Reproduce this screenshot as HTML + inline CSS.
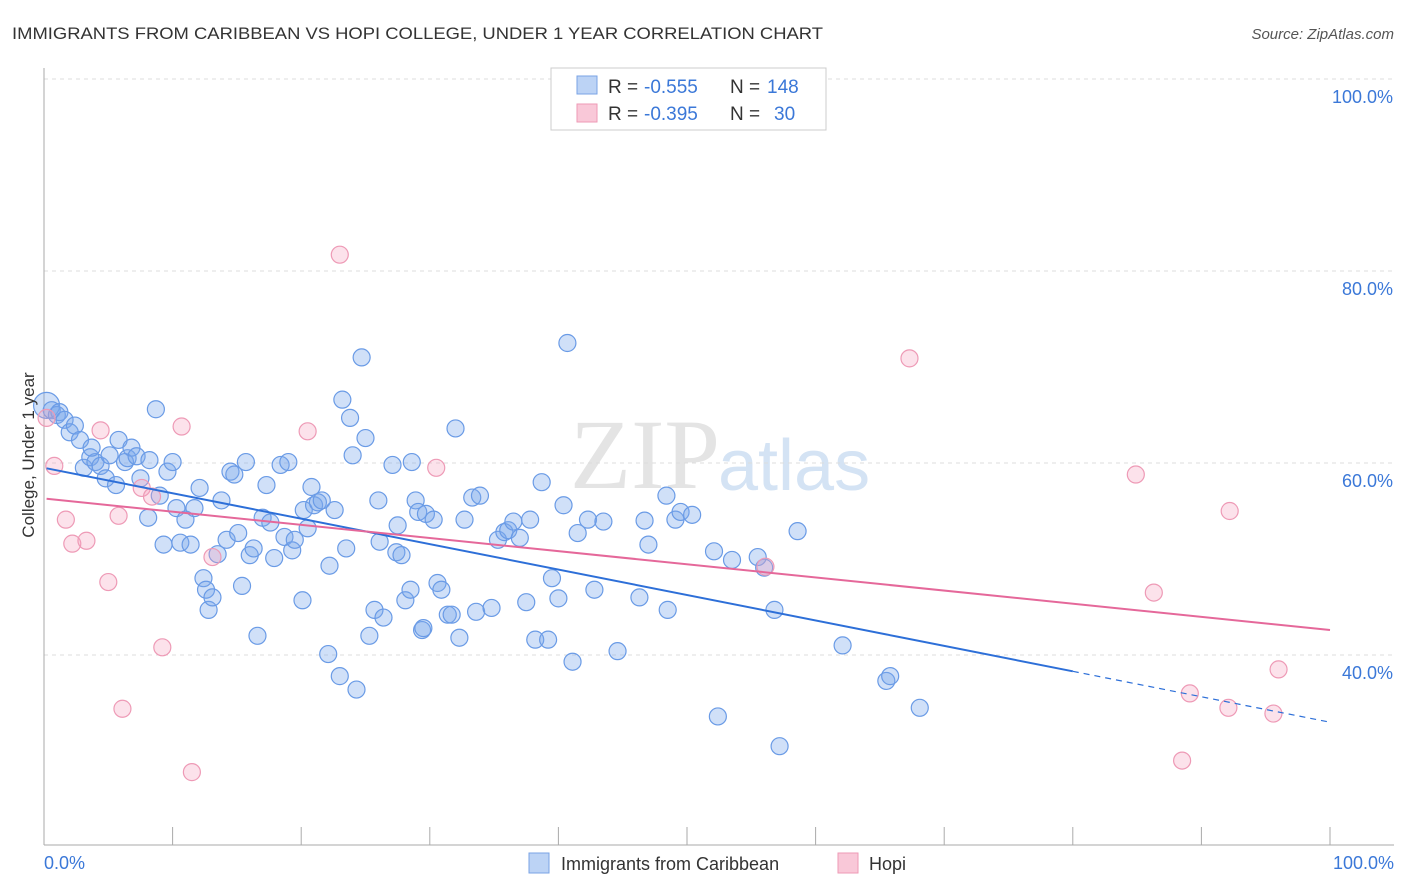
<!DOCTYPE html>
<html><head><meta charset="utf-8">
<style>
body{margin:0;background:#fff;font-family:"Liberation Sans",sans-serif;}
#wrap{position:relative;width:1406px;height:892px;overflow:hidden;}
</style></head>
<body>
<div id="wrap">
<svg id="chart" width="1406" height="892" xmlns="http://www.w3.org/2000/svg">
<text x="12" y="39" font-size="17" fill="#333" textLength="811" lengthAdjust="spacingAndGlyphs">IMMIGRANTS FROM CARIBBEAN VS HOPI COLLEGE, UNDER 1 YEAR CORRELATION CHART</text>
<text x="1394" y="39" font-size="15" fill="#555" font-style="italic" text-anchor="end">Source: ZipAtlas.com</text>
<text x="720" y="488" font-size="100" fill="#e4e4e4" text-anchor="end" font-family="Liberation Serif">ZIP</text>
<text x="718" y="490" font-size="72" fill="#d4e3f4">atlas</text>
<g id="grid"></g>
<g id="axes"></g>
<g id="points"></g>
<g id="trends"></g>
<text transform="translate(34,455) rotate(-90)" font-size="17" fill="#333" text-anchor="middle">College, Under 1 year</text>
<text x="44" y="869" font-size="18" fill="#3b78d8">0.0%</text>
<text x="1394" y="869" font-size="18" fill="#3b78d8" text-anchor="end">100.0%</text>
<g>
<rect x="551" y="68" width="275" height="62" fill="#fff" stroke="#ccc"/>
<rect x="577" y="76" width="20" height="18" fill="#bcd3f5" stroke="#7aa3e5"/>
<rect x="577" y="104" width="20" height="18" fill="#f9c8d8" stroke="#ee9ab6"/>
<text x="608" y="93" font-size="19" fill="#333">R =</text>
<text x="644" y="93" font-size="19" fill="#3b78d8">-0.555</text>
<text x="730" y="93" font-size="19" fill="#333">N =</text>
<text x="767" y="93" font-size="19" fill="#3b78d8">148</text>
<text x="608" y="120" font-size="19" fill="#333">R =</text>
<text x="644" y="120" font-size="19" fill="#3b78d8">-0.395</text>
<text x="730" y="120" font-size="19" fill="#333">N =</text>
<text x="774" y="120" font-size="19" fill="#3b78d8">30</text>
</g>
<g>
<rect x="529" y="853" width="20" height="20" fill="#bcd3f5" stroke="#7aa3e5"/>
<text x="561" y="870" font-size="18" fill="#333">Immigrants from Caribbean</text>
<rect x="838" y="853" width="20" height="20" fill="#f9c8d8" stroke="#ee9ab6"/>
<text x="869" y="870" font-size="18" fill="#333">Hopi</text>
</g>
</svg>
</div>
<script>
const yTicks=[40,60,80,100];
const yTickLabels=["40.0%","60.0%","80.0%","100.0%"];
const xTicks=[0,10,20,30,40,50,60,70,80,90,100];
const blueX=[0.2,0.6,1.0,1.2,1.6,2.0,2.4,2.8,3.1,3.6,4.0,4.4,3.7,4.8,5.1,5.6,5.8,6.3,6.5,6.8,7.2,7.5,8.1,8.2,8.7,9.0,9.3,9.6,10.0,10.3,10.6,11.0,11.4,11.7,12.1,12.4,12.6,12.8,13.1,13.5,13.8,14.2,14.5,14.8,15.1,15.4,15.7,16.0,16.3,16.6,17.0,17.3,17.6,17.9,18.4,18.7,19.0,19.3,19.5,20.1,20.2,20.5,20.8,21.0,21.3,21.6,22.1,22.2,22.6,23.0,23.2,23.5,23.8,24.0,24.3,24.7,25.0,25.3,25.7,26.0,26.1,26.4,27.1,27.4,27.5,27.8,28.1,28.5,28.6,28.9,29.1,29.4,29.5,29.7,30.3,30.6,30.9,31.4,31.7,32.0,32.3,32.7,33.3,33.6,33.9,34.8,35.3,35.8,36.1,36.5,37.0,37.5,37.8,38.2,38.7,39.2,39.5,40.0,40.4,40.7,41.1,41.5,42.3,42.8,43.5,44.6,46.3,46.7,47.0,48.4,48.5,49.1,49.5,50.4,52.1,52.4,53.5,55.5,56.0,56.8,57.2,58.6,62.1,65.5,65.8,68.1];
const blueY=[66.0,65.5,65.0,65.3,64.5,63.2,63.9,62.4,59.5,60.6,60.1,59.7,61.6,58.4,60.8,57.7,62.4,60.1,60.5,61.6,60.7,58.4,54.3,60.3,65.6,56.6,51.5,59.1,60.1,55.3,51.7,54.1,51.5,55.3,57.4,48.0,46.8,44.7,46.0,50.5,56.1,52.0,59.1,58.8,52.7,47.2,60.1,50.4,51.1,42.0,54.3,57.7,53.8,50.1,59.8,52.3,60.1,50.9,52.0,45.7,55.1,53.2,57.5,55.6,55.9,56.1,40.1,49.3,55.1,37.8,66.6,51.1,64.7,60.8,36.4,71.0,62.6,42.0,44.7,56.1,51.8,43.9,59.8,50.7,53.5,50.4,45.7,46.8,60.1,56.1,54.9,42.6,42.8,54.7,54.1,47.5,46.8,44.2,44.2,63.6,41.8,54.1,56.4,44.5,56.6,44.9,52.0,52.8,53.0,53.9,52.2,45.5,54.1,41.6,58.0,41.6,48.0,45.9,55.6,72.5,39.3,52.7,54.1,46.8,53.9,40.4,46.0,54.0,51.5,56.6,44.7,54.1,54.9,54.6,50.8,33.6,49.9,50.2,49.1,44.7,30.5,52.9,41.0,37.3,37.8,34.5];
const pinkX=[0.2,0.8,1.7,2.2,3.3,4.4,5.0,5.8,6.1,7.6,8.4,9.2,10.7,11.5,13.1,20.5,23.0,30.5,56.1,67.3,84.9,86.3,88.5,89.1,92.1,92.2,95.6,96.0];
const pinkY=[64.7,59.7,54.1,51.6,51.9,63.4,47.6,54.5,34.4,57.4,56.5,40.8,63.8,27.8,50.2,63.3,81.7,59.5,49.2,70.9,58.8,46.5,29.0,36.0,34.5,55.0,33.9,38.5];
const blueTrend=[59.5,-0.265];
const pinkTrend=[56.3,-0.137];
const blueSolidEnd=80;

const X0=44,X1=1330,Y0=1039,PY=9.6;
function sx(v){return X0+(X1-X0)*v/100;}
function sy(v){return Y0-v*PY;}
const NS="http://www.w3.org/2000/svg";
function mk(t,a,p){const e=document.createElementNS(NS,t);for(const k in a)e.setAttribute(k,a[k]);p.appendChild(e);return e;}
const grid=document.getElementById('grid'),axes=document.getElementById('axes');
yTicks.forEach((t,i)=>{
 const l=mk('line',{x1:44,x2:1394,y1:sy(t),y2:sy(t),stroke:'#ddd','stroke-dasharray':'4,4'},grid);
 
 
 const tx=mk('text',{x:1393,y:sy(t)+24,'font-size':18,fill:'#3b78d8','text-anchor':'end'},grid);
 tx.textContent=yTickLabels[i];
 
 
});
const ax=mk('line',{x1:44,x2:44,y1:68,y2:845,stroke:'#aaa'},axes);


const bx=mk('line',{x1:44,x2:1394,y1:845,y2:845,stroke:'#aaa'},axes);


xTicks.forEach(t=>{
 const l=mk('line',{x1:sx(t),x2:sx(t),y1:827,y2:845,stroke:'#aaa'},axes);
 
 
});
const pts=document.getElementById('points');
blueX.forEach((x,i)=>{
 const c=mk('circle',{cx:sx(x),cy:sy(blueY[i]),r:i===0?13:8.5,fill:'rgba(120,165,235,0.35)',stroke:'#6a9be6','stroke-width':1.2},pts);
 
 
});
pinkX.forEach((x,i)=>{
 const c=mk('circle',{cx:sx(x),cy:sy(pinkY[i]),r:8.5,fill:'rgba(245,160,190,0.3)',stroke:'#ee9ab6','stroke-width':1.2},pts);
 
 
});
const tr=document.getElementById('trends');
function ty(tp,x){return tp[0]+tp[1]*x;}
const b1=mk('line',{x1:sx(0.2),y1:sy(ty(blueTrend,0.2)),x2:sx(blueSolidEnd),y2:sy(ty(blueTrend,blueSolidEnd)),stroke:'#2d6fd8','stroke-width':2},tr);


const b2=mk('line',{x1:sx(blueSolidEnd),y1:sy(ty(blueTrend,blueSolidEnd)),x2:sx(100),y2:sy(ty(blueTrend,100)),stroke:'#2d6fd8','stroke-width':1.2,'stroke-dasharray':'6,5'},tr);


const p1=mk('line',{x1:sx(0.2),y1:sy(ty(pinkTrend,0.2)),x2:sx(100),y2:sy(ty(pinkTrend,100)),stroke:'#e5689a','stroke-width':2},tr);


</script>
</body></html>
